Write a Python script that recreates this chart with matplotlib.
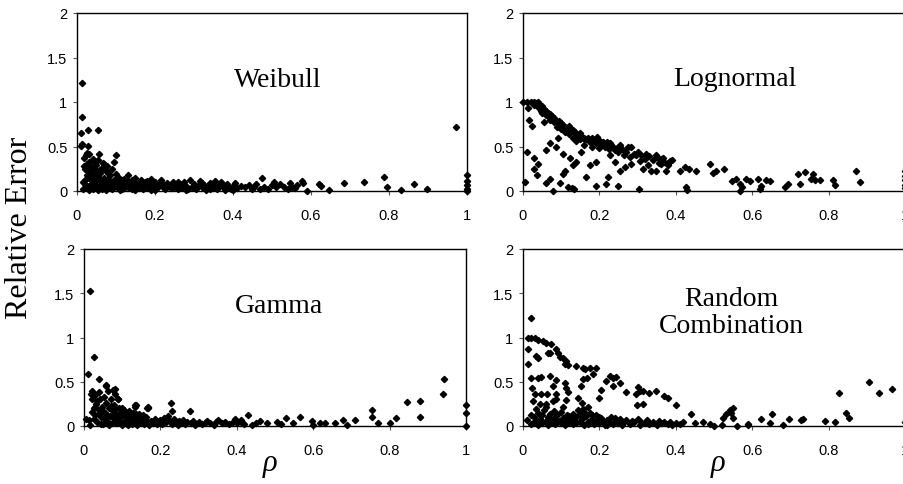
import matplotlib
matplotlib.use("Agg")
import matplotlib.pyplot as plt

# ---------------- data ----------------
weibull_rho = [0.014,0.014,0.011,0.028,0.055,0.010,0.013,0.028,0.099,0.026,0.031,0.022,0.056,0.095,0.018,0.042,0.055,0.018,0.067,0.076,
               0.972,0.685,0.737,0.788,0.795,0.83,0.863,0.897,1,1,1,1,1,0.645,0.576,0.58,0.62,0.625,0.59,0.475,
               0.02,0.025,0.03,0.035,0.04,0.045,0.05,0.05,0.06,0.065,0.07,0.075,0.08,0.085,0.09,0.095,0.10,0.105,0.11,0.115,
               0.02,0.025,0.03,0.035,0.04,0.045,0.05,0.055,0.06,0.065,0.07,0.075,0.08,0.085,0.09,0.095,0.10,0.105,0.11,0.115,
               0.12,0.12,0.125,0.13,0.13,0.135,0.14,0.14,0.145,0.15,0.15,0.155,0.16,0.165,0.17,0.17,0.175,0.18,0.185,0.19,
               0.19,0.195,0.20,0.205,0.21,0.215,0.22,0.225,0.23,0.235,0.24,0.245,0.25,0.255,0.26,0.265,0.27,0.275,0.28,0.285,
               0.29,0.295,0.30,0.305,0.31,0.315,0.32,0.325,0.33,0.335,0.34,0.345,0.35,0.355,0.36,0.365,0.37,0.375,0.38,0.385,
               0.39,0.395,0.40,0.405,0.41,0.42,0.43,0.44,0.45,0.455,0.46,0.47,0.48,0.49,0.50,0.505,0.51,0.52,0.53,0.54,
               0.545,0.55,0.56,0.565,
               0.015,0.02,0.03,0.035,0.04,0.045,0.05,0.055,0.06,0.065,0.07,0.075,0.08,0.085,0.09,0.1,0.105,0.11,0.12,0.13,
               0.14,0.15,0.16,0.18,0.2,0.22,0.24,0.26,0.28,0.3,0.32,0.34,0.36,0.38,0.4,0.015,0.025,0.03,0.04,0.05,0.06]
weibull_err = [1.21,0.83,0.65,0.68,0.69,0.51,0.53,0.51,0.41,0.43,0.42,0.40,0.42,0.33,0.37,0.36,0.35,0.28,0.32,0.28,
               0.72,0.086,0.105,0.154,0.04,0.01,0.075,0.02,0.177,0.113,0.064,0.019,0.0,0.01,0.11,0.09,0.08,0.06,0.0,0.146,
               0.25,0.30,0.22,0.27,0.18,0.31,0.24,0.12,0.20,0.26,0.15,0.22,0.10,0.18,0.25,0.12,0.08,0.16,0.05,0.12,
               0.12,0.05,0.15,0.08,0.02,0.10,0.04,0.16,0.07,0.02,0.09,0.04,0.14,0.06,0.02,0.07,0.13,0.03,0.09,0.02,
               0.06,0.14,0.10,0.04,0.18,0.08,0.12,0.02,0.06,0.10,0.15,0.04,0.08,0.12,0.02,0.06,0.10,0.04,0.08,0.13,
               0.01,0.06,0.10,0.03,0.07,0.12,0.05,0.02,0.09,0.06,0.03,0.10,0.05,0.08,0.02,0.07,0.04,0.10,0.06,0.02,
               0.12,0.05,0.08,0.02,0.06,0.11,0.04,0.07,0.01,0.05,0.09,0.03,0.06,0.11,0.02,0.07,0.10,0.04,0.01,0.08,
               0.05,0.02,0.06,0.09,0.03,0.06,0.04,0.07,0.02,0.05,0.08,0.02,0.05,0.02,0.07,0.10,0.04,0.08,0.05,0.02,
               0.09,0.05,0.03,0.07,
               0.02,0.08,0.01,0.20,0.13,0.06,0.19,0.01,0.13,0.10,0.30,0.01,0.20,0.03,0.10,0.19,0.11,0.01,0.03,0.11,
               0.07,0.01,0.04,0.11,0.01,0.08,0.07,0.10,0.01,0.04,0.09,0.02,0.05,0.06,0.01,0.10,0.18,0.33,0.24,0.29,0.24]

lognormal_rho = [0.0,0.01,0.02,0.03,0.04,0.048,0.07,0.096,0.122,0.157,0.192,0.227,0.253,0.284,0.297,0.323,0.349,0.366,0.391,0.41,
                 0.423,0.435,0.454,0.49,0.497,0.506,0.525,0.548,0.558,0.567,0.572,0.567,0.585,0.593,0.614,0.623,0.62,0.636,0.646,0.685,
                 0.694,0.72,0.725,0.737,0.759,0.755,0.764,0.777,0.812,0.816,0.873,0.883,1,1,1,1,1,
                 0.01,0.004,0.017,0.013,0.024,0.03,0.039,0.03,0.037,0.061,0.07,0.079,0.096,0.105,0.109,0.119,0.127,0.133,0.061,0.07,
                 0.087,0.092,0.105,0.122,0.131,0.14,0.153,0.166,0.175,0.192,0.19,0.218,0.223,0.227,0.24,0.25,0.253,0.266,0.284,0.304,
                 0.305,0.314,0.327,0.336,0.349,0.362,0.375,0.38,0.428,0.43,
                 0.045,0.05,0.055,0.06,0.06,0.065,0.07,0.07,0.075,0.08,0.08,0.085,0.09,0.09,0.095,0.1,0.1,0.105,0.11,0.11,
                 0.115,0.12,0.12,0.125,0.13,0.13,0.135,0.14,0.14,0.145,0.15,0.15,0.155,0.16,0.16,0.165,0.17,0.175,0.18,0.18,
                 0.185,0.19,0.195,0.2,0.2,0.205,0.21,0.215,0.22,0.225,0.23,0.235,0.24,0.245,0.25,0.26,0.265,0.27,0.275,0.28,
                 0.29,0.3,0.31,0.32,0.33,0.34,0.35,0.355,0.36,0.37,0.38,0.385,0.03,0.035,0.04,0.05,0.055]
lognormal_err = [1.0,1.0,1.0,1.0,1.0,0.90,0.82,0.75,0.67,0.59,0.56,0.54,0.52,0.50,0.41,0.42,0.41,0.37,0.35,0.23,
                 0.27,0.25,0.22,0.30,0.20,0.23,0.25,0.11,0.13,0.08,0.04,0.0,0.14,0.11,0.14,0.06,0.02,0.12,0.11,0.045,
                 0.08,0.19,0.08,0.21,0.19,0.13,0.12,0.12,0.12,0.065,0.23,0.10,0.22,0.17,0.12,0.07,0.03,
                 0.44,0.10,0.80,0.93,0.73,0.37,0.30,0.25,0.18,0.09,0.13,0.0,0.09,0.19,0.22,0.045,0.03,0.02,0.46,0.54,
                 0.50,0.59,0.42,0.37,0.29,0.33,0.44,0.16,0.29,0.33,0.06,0.08,0.16,0.41,0.33,0.06,0.22,0.27,0.30,0.02,
                 0.34,0.25,0.29,0.22,0.23,0.30,0.22,0.29,0.045,0.01,
                 0.97,0.95,0.92,0.90,0.85,0.88,0.86,0.80,0.84,0.82,0.77,0.80,0.78,0.72,0.79,0.76,0.70,0.74,0.72,0.66,
                 0.70,0.73,0.64,0.69,0.68,0.60,0.66,0.64,0.56,0.62,0.65,0.58,0.61,0.60,0.52,0.58,0.59,0.55,0.60,0.50,
                 0.56,0.54,0.61,0.57,0.48,0.53,0.55,0.50,0.55,0.47,0.52,0.50,0.46,0.48,0.44,0.47,0.40,0.44,0.50,0.38,
                 0.42,0.44,0.40,0.36,0.39,0.35,0.38,0.32,0.36,0.33,0.31,0.34,0.97,0.99,0.94,0.88,0.78]

gamma_rho = [0.017,0.026,0.01,0.039,0.058,0.081,0.943,0.939,0.88,0.88,0.846,0.817,0.8,0.77,0.753,0.753,0.709,0.679,0.688,0.657,
             1,1,1,0.43,0.227,0.23,0.277,0.168,0.134,
             0.53,0.565,0.596,0.618,0.6,0.46,0.478,0.504,0.517,0.548,0.63,0.395,0.41,0.352,0.321,0.019,0.057,0.077,0.088,0.135,0.167,
             0.005,0.012,0.02,0.022,0.025,0.028,0.03,0.032,0.035,0.038,0.04,0.042,0.045,0.048,0.05,0.052,0.055,0.058,0.06,0.062,
             0.065,0.068,0.07,0.072,0.075,0.078,0.08,0.082,0.085,0.088,0.09,0.092,0.095,0.098,0.1,0.102,0.105,0.108,0.11,0.112,
             0.115,0.118,0.12,0.122,0.125,0.128,0.13,0.133,0.135,0.138,0.14,0.143,0.145,0.148,0.15,0.153,0.155,0.158,0.16,0.163,
             0.165,0.168,0.17,0.175,0.18,0.185,0.19,0.195,0.2,0.205,0.21,0.215,0.22,0.225,0.23,0.235,0.24,0.245,0.25,0.255,
             0.26,0.265,0.27,0.28,0.285,0.29,0.3,0.31,0.32,0.33,0.34,0.345,0.36,0.37,0.38,0.39,0.4,0.41,0.42,0.44,0.45,
             0.015,0.025,0.035,0.045,0.055,0.065,0.075,0.085,0.095,0.105,0.115,0.125,0.135,0.02,0.03,0.04,0.05,0.06,0.07,0.08,
             0.09,0.1,0.11,0.12,0.13]
gamma_err = [1.52,0.785,0.585,0.536,0.46,0.415,0.536,0.366,0.28,0.10,0.27,0.094,0.038,0.038,0.18,0.10,0.07,0.068,0.01,0.03,
             0.234,0.143,0.0,0.12,0.26,0.17,0.17,0.215,0.234,
             0.094,0.10,0.057,0.038,0.01,0.057,0.03,0.05,0.026,0.038,0.038,0.075,0.068,0.068,0.057,0.36,0.455,0.41,0.31,0.24,0.20,
             0.08,0.07,0.40,0.30,0.20,0.35,0.12,0.25,0.05,0.18,0.38,0.30,0.10,0.22,0.02,0.33,0.15,0.26,0.06,0.40,
             0.20,0.11,0.30,0.03,0.17,0.24,0.08,0.36,0.14,0.30,0.04,0.20,0.10,0.16,0.01,0.12,0.18,0.06,0.14,0.02,
             0.09,0.17,0.05,0.12,0.02,0.15,0.08,0.22,0.04,0.11,0.01,0.07,0.14,0.03,0.09,0.05,0.12,0.02,0.07,0.10,
             0.20,0.04,0.01,0.06,0.03,0.08,0.02,0.05,0.07,0.02,0.09,0.04,0.11,0.06,0.02,0.08,0.04,0.01,0.06,0.03,
             0.07,0.02,0.05,0.03,0.06,0.01,0.04,0.02,0.05,0.03,0.01,0.05,0.03,0.04,0.02,0.05,0.03,0.05,0.02,0.01,0.03,
             0.01,0.08,0.28,0.02,0.08,0.01,0.10,0.03,0.06,0.03,0.01,0.07,0.13,0.16,0.21,0.13,0.17,0.12,0.23,0.19,
             0.09,0.20,0.07,0.10,0.03]

random_rho = [0.022,0.013,0.022,0.032,0.039,0.052,0.061,0.014,0.072,0.014,0.035,0.039,0.065,0.07,0.087,0.092,0.096,0.105,0.113,0.109,
              0.118,0.14,0.157,0.161,0.175,0.192,0.183,0.168,0.157,0.218,0.227,0.236,0.244,0.236,0.253,0.205,0.269,0.301,0.305,0.297,
              0.314,0.33,0.349,0.37,0.38,0.401,0.298,0.314,0.022,0.039,0.048,0.07,0.087,0.079,0.086,0.109,0.113,0.153,0.144,0.155,
              0.198,0.17,0.157,0.024,0.031,0.048,0.063,0.079,0.087,0.044,0.061,0.026,0.035,0.105,0.112,0.118,
              0.827,0.906,0.931,0.967,0.845,0.853,0.818,0.79,0.733,0.729,0.696,0.681,0.653,0.646,0.624,0.589,0.55,0.545,0.551,0.541,
              0.532,0.524,0.44,1,0.42,0.45,0.47,0.49,0.5,0.52,0.56,0.59,
              0.01,0.02,0.03,0.035,0.04,0.045,0.05,0.05,0.055,0.06,0.065,0.065,0.07,0.075,0.08,0.085,0.09,0.095,0.1,0.1,
              0.105,0.11,0.115,0.12,0.125,0.13,0.13,0.135,0.14,0.145,0.15,0.15,0.155,0.16,0.16,0.165,0.17,0.175,0.18,0.185,
              0.19,0.195,0.2,0.205,0.21,0.215,0.22,0.225,0.23,0.235,0.24,0.25,0.255,0.26,0.265,0.27,0.28,0.285,0.29,0.3,
              0.305,0.31,0.32,0.325,0.33,0.34,0.35,0.355,0.36,0.37,0.38,0.385,0.39,0.4,0.41,0.02,0.03,0.04,0.06,0.07,
              0.08,0.09,0.11,0.12,0.14,0.17,0.18,0.2,0.22,0.24]
random_err = [1.215,1.0,1.0,0.99,0.97,0.955,0.943,0.87,0.925,0.705,0.79,0.77,0.82,0.82,0.87,0.82,0.78,0.77,0.74,0.70,
              0.69,0.68,0.66,0.64,0.65,0.66,0.59,0.54,0.53,0.51,0.57,0.54,0.55,0.45,0.49,0.41,0.385,0.44,0.40,0.36,
              0.40,0.377,0.40,0.34,0.32,0.24,0.24,0.245,0.54,0.54,0.555,0.565,0.52,0.45,0.36,0.49,0.43,0.45,0.32,0.26,
              0.32,0.215,0.19,0.43,0.36,0.365,0.365,0.28,0.30,0.245,0.245,0.28,0.19,0.21,0.29,0.38,
              0.37,0.50,0.37,0.415,0.15,0.094,0.045,0.057,0.083,0.068,0.075,0.01,0.13,0.03,0.075,0.02,0.094,0.15,0.20,0.18,
              0.13,0.094,0.13,0.05,0.05,0.03,0.04,0.02,0.0,0.01,0.0,0.01,
              0.07,0.02,0.10,0.05,0.15,0.08,0.03,0.12,0.18,0.06,0.01,0.10,0.14,0.04,0.09,0.02,0.12,0.06,0.16,0.03,
              0.09,0.01,0.12,0.05,0.08,0.14,0.02,0.06,0.10,0.18,0.04,0.13,0.08,0.16,0.01,0.11,0.05,0.15,0.08,0.02,
              0.12,0.06,0.03,0.09,0.05,0.01,0.07,0.04,0.10,0.02,0.06,0.03,0.08,0.01,0.05,0.07,0.02,0.06,0.04,0.08,
              0.01,0.05,0.03,0.07,0.02,0.05,0.01,0.06,0.03,0.05,0.02,0.04,0.01,0.03,0.02,0.12,0.04,0.01,0.21,0.07,
              0.17,0.04,0.07,0.11,0.03,0.02,0.12,0.10,0.01,0.09]

panel_names = ["Weibull", "Lognormal", "Gamma", "Random\nCombination"]
x_ticks = [0, 0.2, 0.4, 0.6, 0.8, 1]
x_tick_labels = ["0", "0.2", "0.4", "0.6", "0.8", "1"]
y_ticks = [0, 0.5, 1, 1.5, 2]
y_tick_labels = ["0", "0.5", "1", "1.5", "2"]

# ---------------- figure ----------------
W, H = 904, 485
fig = plt.figure(figsize=(W / 100, H / 100), dpi=100)

def rect(x0, x1, ytop, ybot):
    return [x0 / W, 1 - ybot / H, (x1 - x0) / W, (ybot - ytop) / H]

panels = [
    (rect(77, 467, 14, 192), weibull_rho, weibull_err, panel_names[0], (0.515, 1.25)),
    (rect(523, 905, 14, 192), lognormal_rho, lognormal_err, panel_names[1], (0.554, 1.26)),
    (rect(84, 466, 250, 427), gamma_rho, gamma_err, panel_names[2], (0.51, 1.36)),
    (rect(523, 905, 250, 427), random_rho, random_err, panel_names[3], (0.546, 1.29)),
]

serif = ["Liberation Serif", "DejaVu Serif"]
sans = ["Liberation Sans", "DejaVu Sans"]

axes = []
for pos, xs, ys, name, tpos in panels:
    ax = fig.add_axes(pos)
    ax.plot(xs, ys, linestyle="none", marker="D", markersize=3.2,
            color="black", clip_on=False)
    ax.set_xlim(0, 1)
    ax.set_ylim(0, 2)
    ax.set_xticks(x_ticks)
    ax.set_xticklabels(x_tick_labels, family=sans, fontsize=10.5)
    ax.set_yticks(y_ticks)
    ax.set_yticklabels(y_tick_labels, family=sans, fontsize=10.5)
    ax.tick_params(axis="both", length=3, width=0.8, color="#555555", pad=4)
    ax.tick_params(axis="x", pad=9)
    for s in ax.spines.values():
        s.set_linewidth(1.0)
        s.set_color("black")
    ax.text(tpos[0], tpos[1], name, ha="center", va="center",
            family=serif, fontsize=20, linespacing=1.1)
    axes.append(ax)

fig.text(20 / W, 1 - 228 / H, "Relative Error", rotation=90, ha="center",
         va="center", family=serif, fontsize=23)
for xc in (270, 718):
    fig.text(xc / W, 1 - 463 / H, "ρ", ha="center", va="center",
             family=serif, style="italic", fontsize=22)

fig.savefig("out.png", dpi=100)
